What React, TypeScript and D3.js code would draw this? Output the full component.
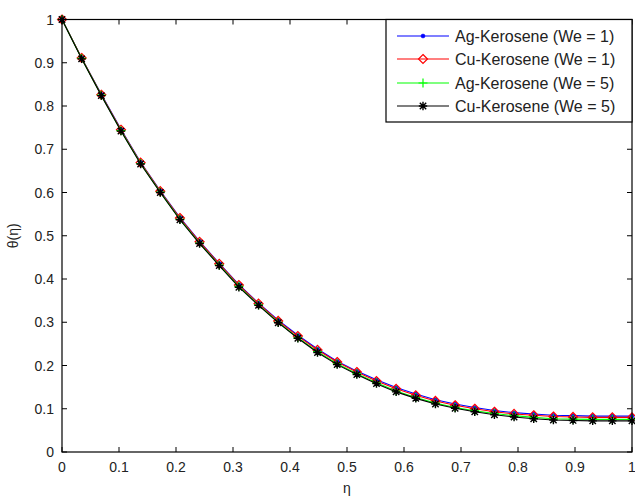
import React from "react";
import * as d3 from "d3";

const eta: number[] = Array.from({ length: 30 }, (_, i) => i / 29);

const cuWe5: number[] = [1, 0.909, 0.824, 0.742, 0.666, 0.6, 0.537, 0.482, 0.431, 0.381, 0.339, 0.299, 0.263, 0.23, 0.202, 0.179, 0.158, 0.139, 0.124, 0.111, 0.101, 0.093, 0.086, 0.081, 0.077, 0.074, 0.073, 0.072, 0.072, 0.072];
const agWe5: number[] = [1, 0.91, 0.825, 0.743, 0.667, 0.601, 0.538, 0.483, 0.432, 0.383, 0.34, 0.3, 0.264, 0.232, 0.204, 0.181, 0.16, 0.141, 0.126, 0.113, 0.103, 0.095, 0.089, 0.084, 0.08, 0.077, 0.076, 0.0755, 0.0755, 0.0755];
const cuWe1: number[] = [1, 0.911, 0.826, 0.745, 0.669, 0.603, 0.541, 0.486, 0.435, 0.386, 0.343, 0.303, 0.268, 0.236, 0.208, 0.185, 0.164, 0.146, 0.131, 0.118, 0.108, 0.1, 0.093, 0.088, 0.085, 0.082, 0.081, 0.08, 0.08, 0.08];
const agWe1: number[] = [1, 0.911, 0.827, 0.746, 0.67, 0.604, 0.542, 0.487, 0.436, 0.387, 0.344, 0.305, 0.27, 0.238, 0.21, 0.187, 0.167, 0.149, 0.134, 0.121, 0.111, 0.103, 0.096, 0.091, 0.088, 0.085, 0.084, 0.083, 0.083, 0.083];

const seriesNames: string[] = ["Ag-Kerosene (We = 1)", "Cu-Kerosene (We = 1)", "Ag-Kerosene (We = 5)", "Cu-Kerosene (We = 5)"];
const seriesColors: string[] = ["#0000ff", "#ff0000", "#00ff00", "#000000"];
const seriesMarkers: string[] = ["dot", "diamond", "plus", "star"];
const seriesValues: number[][] = [agWe1, cuWe1, agWe5, cuWe5];

const xTicks: number[] = [0, 0.1, 0.2, 0.3, 0.4, 0.5, 0.6, 0.7, 0.8, 0.9, 1];
const yTicks: number[] = [0, 0.1, 0.2, 0.3, 0.4, 0.5, 0.6, 0.7, 0.8, 0.9, 1];

const W = 635, H = 500;
const L = 62, R = 632, T = 19.5, B = 452;

function Marker({ type, x, y, color }: { type: string; x: number; y: number; color: string }) {
  if (type === "dot") return <circle cx={x} cy={y} r={2} fill={color} stroke={color} strokeWidth={0.5} />;
  if (type === "diamond")
    return <path d={`M${x},${y - 4.5}L${x + 4.5},${y}L${x},${y + 4.5}L${x - 4.5},${y}Z`} fill="none" stroke={color} strokeWidth={1.2} />;
  if (type === "plus")
    return <path d={`M${x - 4.5},${y}H${x + 4.5}M${x},${y - 4.5}V${y + 4.5}`} stroke={color} strokeWidth={1.2} />;
  const s = 4.2, d = 3.2;
  return (
    <path
      d={`M${x - s},${y}H${x + s}M${x},${y - s}V${y + s}M${x - d},${y - d}L${x + d},${y + d}M${x - d},${y + d}L${x + d},${y - d}`}
      stroke={color}
      strokeWidth={1.4}
    />
  );
}

export default function App() {
  const x = d3.scaleLinear().domain([0, 1]).range([L, R]);
  const y = d3.scaleLinear().domain([0, 1]).range([B, T]);
  const line = d3.line<number>().x((_, i) => x(eta[i])).y((v) => y(v));
  const font = "Arial, 'Liberation Sans', sans-serif";
  const legX = 386, legY = T, legW = R - 386, legH = 102.5;
  const rowY = [36, 59, 83, 106];
  return (
    <svg width={W} height={H} style={{ position: "absolute", left: 0, top: 0, background: "#fff" }}>
      <rect x={0} y={0} width={W} height={H} fill="#fff" />
      {seriesValues.map((vals, si) => (
        <g key={si}>
          <path d={line(vals) || ""} fill="none" stroke={seriesColors[si]} strokeWidth={1.1} />
          {vals.map((v, i) => (
            <Marker key={i} type={seriesMarkers[si]} x={x(eta[i])} y={y(v)} color={seriesColors[si]} />
          ))}
        </g>
      ))}
      <rect x={L} y={T} width={R - L} height={B - T} fill="none" stroke="#000" strokeWidth={1.2} />
      {xTicks.map((t) => (
        <g key={"x" + t}>
          <line x1={x(t)} x2={x(t)} y1={B} y2={B - 5} stroke="#000" />
          <line x1={x(t)} x2={x(t)} y1={T} y2={T + 5} stroke="#000" />
          <text x={x(t)} y={B + 20} textAnchor="middle" fontFamily={font} fontSize={14} fill="#222">{String(t)}</text>
        </g>
      ))}
      {yTicks.map((t) => (
        <g key={"y" + t}>
          <line x1={L} x2={L + 5} y1={y(t)} y2={y(t)} stroke="#000" />
          <line x1={R} x2={R - 5} y1={y(t)} y2={y(t)} stroke="#000" />
          <text x={L - 8} y={y(t) + 5} textAnchor="end" fontFamily={font} fontSize={14} fill="#222">{String(t)}</text>
        </g>
      ))}
      <text x={(L + R) / 2} y={493} textAnchor="middle" fontFamily={font} fontSize={14} fill="#222">η</text>
      <text transform={`translate(18,${(T + B) / 2}) rotate(-90)`} textAnchor="middle" fontFamily={font} fontSize={14} fill="#222">θ(η)</text>
      <rect x={legX} y={legY} width={legW} height={legH} fill="#fff" stroke="#000" strokeWidth={1.2} />
      {seriesNames.map((n, i) => (
        <g key={n}>
          <line x1={397} x2={449} y1={rowY[i]} y2={rowY[i]} stroke={seriesColors[i]} strokeWidth={1.1} />
          <Marker type={seriesMarkers[i]} x={423} y={rowY[i]} color={seriesColors[i]} />
          <text x={455} y={rowY[i] + 5.5} fontFamily={font} fontSize={16} fill="#222">{n}</text>
        </g>
      ))}
    </svg>
  );
}
